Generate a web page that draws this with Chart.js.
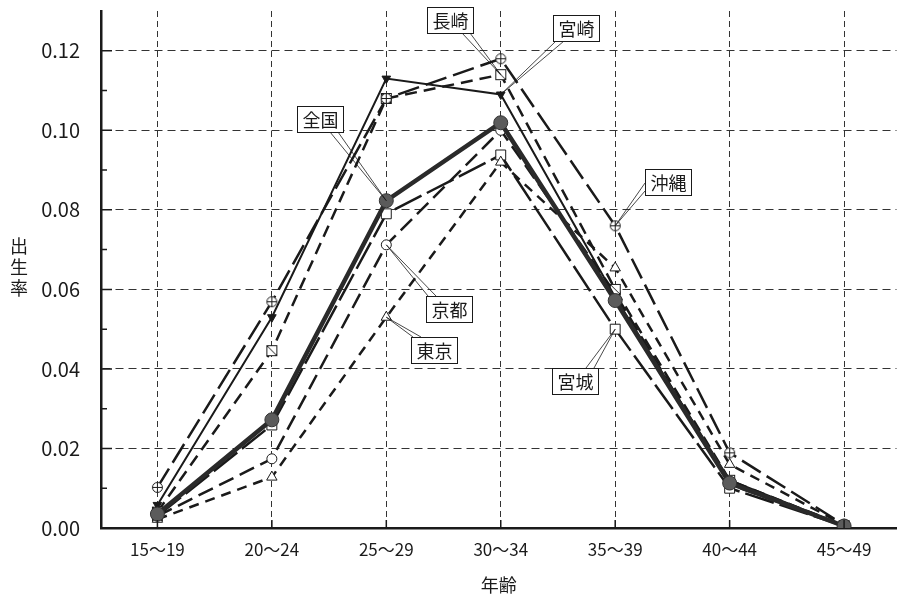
<!DOCTYPE html>
<html>
<head>
<meta charset="utf-8">
<script src="https://cdn.jsdelivr.net/npm/chart.js@4.4.0/dist/chart.umd.min.js"></script>
<style>
  html, body { margin: 0; padding: 0; background: #fff; }
</style>
</head>
<body>
<canvas id="chart" width="905" height="603"></canvas>
<script>
// age groups and birth rates
const categories = ['15〜19', '20〜24', '25〜29', '30〜34', '35〜39', '40〜44', '45〜49'];
const zenkoku  = [0.0035, 0.0272, 0.0823, 0.1019, 0.0572, 0.0113, 0.0005];
const miyazaki = [0.0058, 0.0530, 0.1130, 0.1090, 0.0580, 0.0120, 0.0006];
const okinawa  = [0.0102, 0.0569, 0.1080, 0.1180, 0.0760, 0.0189, 0.0008];
const nagasaki = [0.0040, 0.0446, 0.1080, 0.1140, 0.0600, 0.0120, 0.0006];
const kyoto    = [0.0030, 0.0174, 0.0712, 0.1000, 0.0590, 0.0110, 0.0005];
const tokyo    = [0.0022, 0.0128, 0.0530, 0.0920, 0.0654, 0.0160, 0.0008];
const miyagi   = [0.0030, 0.0259, 0.0790, 0.0938, 0.0500, 0.0100, 0.0005];
const yTickValues  = [0, 0.02, 0.04, 0.06, 0.08, 0.10, 0.12];
const yMinorValues = [0.01, 0.03, 0.05, 0.07, 0.09, 0.11];

const FONT = '"Noto Sans CJK JP", "Noto Sans", sans-serif';
const INK = '#1a1a1a';

function makeMarker(kind) {
    const c = document.createElement('canvas');
    c.width = 13; c.height = 13;
    const g = c.getContext('2d');
    g.strokeStyle = INK;
    g.fillStyle = '#fff';
    g.lineWidth = 1;
    if (kind === 'circleCross') {
        g.beginPath(); g.arc(6.5, 6.5, 5, 0, Math.PI * 2); g.fill(); g.stroke();
        g.beginPath();
        g.moveTo(1.5, 6.5); g.lineTo(11.5, 6.5);
        g.moveTo(6.5, 1.5); g.lineTo(6.5, 11.5);
        g.stroke();
    } else {
        g.fillRect(1.5, 1.5, 10, 10); g.strokeRect(1.5, 1.5, 10, 10);
        g.beginPath(); g.moveTo(1.5, 1.5); g.lineTo(11.5, 11.5); g.stroke();
    }
    return c;
}

const toPoints = arr => arr.map((v, i) => ({ x: i, y: v }));

const datasets = [
    { label: '全国', data: toPoints(zenkoku), borderColor: '#2a2a2a', borderWidth: 4.5,
      pointStyle: 'circle', pointRadius: 7, pointBackgroundColor: '#5b5b5b', pointBorderColor: '#333', pointBorderWidth: 1 },
    { label: '宮崎', data: toPoints(miyazaki), borderColor: INK, borderWidth: 2,
      pointStyle: 'triangle', rotation: 180, pointRadius: 5, pointBackgroundColor: INK, pointBorderColor: INK, pointBorderWidth: 1 },
    { label: '沖縄', data: toPoints(okinawa), borderColor: INK, borderWidth: 2.5, borderDash: [22, 7],
      pointStyle: makeMarker('circleCross'), pointRadius: 6 },
    { label: '長崎', data: toPoints(nagasaki), borderColor: INK, borderWidth: 2.5, borderDash: [12, 7],
      pointStyle: makeMarker('squareDiag'), pointRadius: 6 },
    { label: '京都', data: toPoints(kyoto), borderColor: INK, borderWidth: 2.5, borderDash: [16, 7],
      pointStyle: 'circle', pointRadius: 5, pointBackgroundColor: '#fff', pointBorderColor: INK, pointBorderWidth: 1 },
    { label: '東京', data: toPoints(tokyo), borderColor: INK, borderWidth: 2.5, borderDash: [10, 7],
      pointStyle: 'triangle', pointRadius: 6, pointBackgroundColor: '#fff', pointBorderColor: INK, pointBorderWidth: 1 },
    { label: '宮城', data: toPoints(miyagi), borderColor: INK, borderWidth: 2.5, borderDash: [30, 6],
      pointStyle: 'rect', pointRadius: 7, pointBackgroundColor: '#fff', pointBorderColor: INK, pointBorderWidth: 1 }
];

// callout boxes: which point they point at, where the box sits, where the leader leaves it
const callouts = [
    { text: '長崎', ds: 3, idx: 3, box: [427, 7, 46, 26],  from: [[462, 33], [470, 33]] },
    { text: '宮崎', ds: 1, idx: 3, box: [553, 15, 46, 26], from: [[556, 41], [564, 41]] },
    { text: '全国', ds: 0, idx: 2, box: [297, 106, 46, 26], from: [[330, 132], [338, 132]] },
    { text: '沖縄', ds: 2, idx: 4, box: [645, 169, 46, 26], from: [[645, 183], [645, 191]] },
    { text: '京都', ds: 4, idx: 2, box: [426, 296, 46, 26], from: [[428, 296], [436, 296]] },
    { text: '東京', ds: 5, idx: 2, box: [411, 337, 46, 26], from: [[413, 337], [421, 337]] },
    { text: '宮城', ds: 6, idx: 4, box: [552, 368, 46, 26], from: [[586, 368], [594, 368]] }
];

const decor = {
    id: 'decor',
    afterDraw(chart) {
        const { ctx, chartArea, scales: { x, y } } = chart;
        ctx.save();
        ctx.strokeStyle = INK;
        ctx.lineWidth = 1.5;
        ctx.beginPath();
        yTickValues.forEach(v => {
            const py = y.getPixelForValue(v);
            ctx.moveTo(chartArea.left, py); ctx.lineTo(chartArea.left + 11, py);
        });
        yMinorValues.forEach(v => {
            const py = y.getPixelForValue(v);
            ctx.moveTo(chartArea.left, py); ctx.lineTo(chartArea.left + 6, py);
        });
        categories.forEach((c, i) => {
            const px = x.getPixelForValue(i);
            ctx.moveTo(px, chartArea.bottom); ctx.lineTo(px, chartArea.bottom - 8);
        });
        ctx.stroke();

        // stacked vertical y title
        ctx.fillStyle = INK;
        ctx.font = '18px ' + FONT;
        ctx.textAlign = 'center';
        ctx.textBaseline = 'middle';
        ['出', '生', '率'].forEach((ch, i) => ctx.fillText(ch, 19, 246 + i * 21));

        // callouts
        callouts.forEach(c => {
            const pt = chart.getDatasetMeta(c.ds).data[c.idx];
            ctx.strokeStyle = INK;
            ctx.lineWidth = 0.8;
            ctx.beginPath();
            ctx.moveTo(c.from[0][0], c.from[0][1]); ctx.lineTo(pt.x, pt.y);
            ctx.lineTo(c.from[1][0], c.from[1][1]);
            ctx.stroke();
            const [bx, by, bw, bh] = c.box;
            ctx.fillStyle = '#fff';
            ctx.fillRect(bx, by, bw, bh);
            ctx.lineWidth = 1;
            ctx.strokeRect(bx + 0.5, by + 0.5, bw, bh);
            ctx.fillStyle = INK;
            ctx.font = '18px ' + FONT;
            ctx.fillText(c.text, bx + bw / 2 + 0.5, by + bh / 2 + 1);
        });
        ctx.restore();
    }
};

new Chart(document.getElementById('chart').getContext('2d'), {
    type: 'line',
    data: { datasets },
    plugins: [decor],
    options: {
        responsive: false,
        animation: false,
        events: [],
        layout: { padding: { top: 11, right: 0, left: 0, bottom: 0 } },
        plugins: { legend: { display: false }, tooltip: { enabled: false } },
        elements: { line: { tension: 0, fill: false } },
        scales: {
            x: {
                type: 'linear',
                min: -0.493,
                max: 6.458,
                afterBuildTicks: scale => { scale.ticks = categories.map((c, i) => ({ value: i })); },
                afterFit: scale => { scale.height = 75; scale.paddingLeft = 0; scale.paddingRight = 0; },
                ticks: {
                    color: INK,
                    font: { family: FONT, size: 17 },
                    padding: 11,
                    maxRotation: 0,
                    callback: v => categories[v]
                },
                grid: { color: '#333', lineWidth: 1, drawTicks: false },
                border: { color: INK, width: 2.5, dash: [6, 4] },
                title: { display: true, text: '年齢', color: INK, font: { family: FONT, size: 18 }, padding: { top: 0, bottom: 7 } }
            },
            y: {
                min: 0,
                max: 0.13,
                afterBuildTicks: scale => { scale.ticks = yTickValues.map(v => ({ value: v })); },
                afterFit: scale => { scale.width = 101; scale.paddingTop = 0; scale.paddingBottom = 0; },
                ticks: {
                    color: INK,
                    font: { family: FONT, size: 20 },
                    padding: 21,
                    callback: v => v.toFixed(2)
                },
                grid: { color: '#333', lineWidth: 1, drawTicks: false },
                border: { color: INK, width: 2.5, dash: [8, 5] }
            }
        }
    }
});
</script>
</body>
</html>
